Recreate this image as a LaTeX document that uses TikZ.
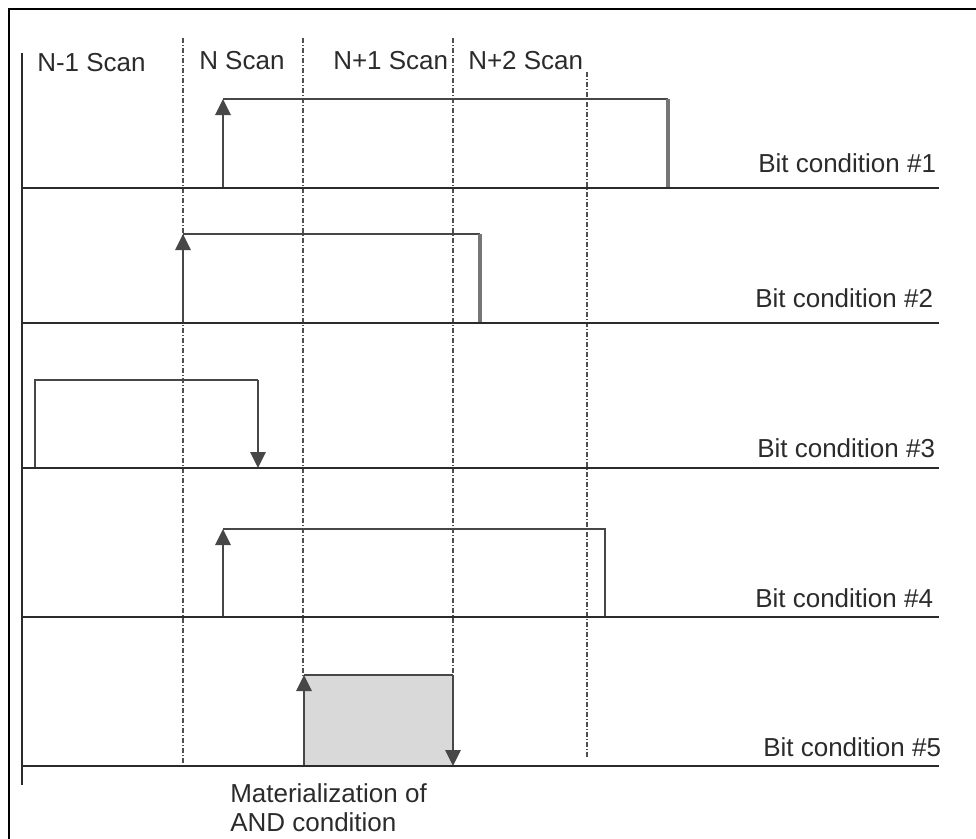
\documentclass[tikz,border=0pt]{standalone}
\usepackage{fontspec}
\setmainfont{Liberation Sans}
\usetikzlibrary{arrows.meta}
\definecolor{Ink}{HTML}{2B2B2B}
\definecolor{Trace}{HTML}{474747}
\definecolor{Edge}{HTML}{767676}
\definecolor{Grid}{HTML}{505050}
\definecolor{Shade}{HTML}{D9D9D9}
\tikzset{
  frame/.style={draw=black,line width=1.6pt},
  axis/.style={draw=Ink,line width=1.9pt},
  rail/.style={draw=Ink,line width=1.9pt},
  scanline/.style={draw=Grid,line width=1.1pt,dash pattern=on 3.75pt off 1.5pt on .75pt off 1.5pt},
  pulse/.style={draw=Trace,line width=1.5pt},
  fall/.style={draw=Edge,line width=2.3pt},
  edge/.style={pulse,-{Triangle[length=12pt,width=11.5pt]}},
  tag/.style={font=\fontsize{19.5}{21.75}\selectfont,text=Ink,anchor=base west,inner sep=0pt}
}
\begin{document}
\begin{tikzpicture}[x=.75pt,y=-.75pt]
  \useasboundingbox (0,0) rectangle (976,839);
  \clip (0,0) rectangle (976,839);
  \draw[frame] (9,9) rectangle (1000,860);

  % scan boundaries
  \foreach \x/\a/\b [count=\i] in {183/38/763,303/38/677,453/38/673,587/72/757} {
    \coordinate (s\i) at (\x,\a);
    \coordinate (e\i) at (\x,\b);
    \draw[scanline] (s\i) -- (e\i);
  }

  % pulse corners: rise foot, rise top, fall top, fall foot
  \foreach \u/\v/\w/\y [count=\i] in {223/668/99/188,183/480/234/323,35/258/380/468,223/605/529/617,304/453/675/766} {
    \coordinate (p\i a) at (\u,\y);
    \coordinate (p\i b) at (\u,\w);
    \coordinate (p\i c) at (\v,\w);
    \coordinate (p\i d) at (\v,\y);
    \coordinate (l\i) at (22,\y);
    \coordinate (r\i) at (939,\y);
  }
  \fill[Shade] (p5a) rectangle (p5c);

  % bit 1, 2, 4: rising edge marked
  \draw[edge] (p1a) -- (p1b);
  \draw[pulse] (p1b) -- (p1c);
  \draw[fall] (p1c) -- (p1d);
  \draw[edge] (p2a) -- (p2b);
  \draw[pulse] (p2b) -- (p2c);
  \draw[fall] (p2c) -- (p2d);
  \draw[edge] (p4a) -- (p4b);
  \draw[pulse] (p4b) -- (p4c) -- (p4d);
  % bit 3: falling edge marked
  \draw[pulse] (p3a) -- (p3b) -- (p3c);
  \draw[edge] (p3c) -- (p3d);
  % bit 5: AND result
  \draw[edge] (p5a) -- (p5b);
  \draw[pulse] (p5b) -- (p5c);
  \draw[edge] (p5c) -- (p5d);

  \coordinate (ax0) at (22,53);
  \coordinate (ax1) at (22,785);
  \draw[axis] (ax0) -- (ax1);
  \foreach \i in {1,...,5}
    \draw[rail] (l\i) -- (r\i);

  \node[tag] (scan0) at (37,71) {N-1 Scan};
  \node[tag] (scan1) at (199,69) {N Scan};
  \node[tag] (scan2) at (333,69) {N+1 Scan};
  \node[tag] (scan3) at (468,69) {N+2 Scan};

  \node[tag] (bit1) at (758,172) {Bit condition \#1};
  \node[tag] (bit2) at (755,307) {Bit condition \#2};
  \node[tag] (bit3) at (757,457) {Bit condition \#3};
  \node[tag] (bit4) at (755,607) {Bit condition \#4};
  \node[tag] (bit5) at (763,756) {Bit condition \#5};

  \node[tag,align=left] (note) at (230,831) {Materialization of\\AND condition};
\end{tikzpicture}
\end{document}
